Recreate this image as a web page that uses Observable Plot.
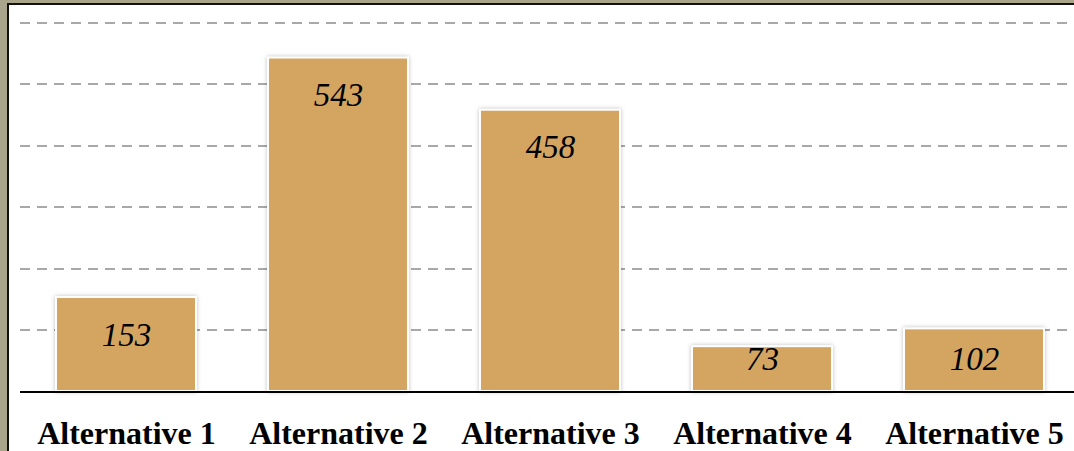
<!DOCTYPE html>
<html>
<head>
<meta charset="utf-8">
<script src="https://cdn.jsdelivr.net/npm/d3@7"></script>
<script src="https://cdn.jsdelivr.net/npm/@observablehq/plot@0.6"></script>
<style>
  html, body { margin: 0; padding: 0; width: 1074px; height: 451px; overflow: hidden; background: #a8a58c; }
  #frame { position: absolute; left: 7px; top: 3px; right: 0; bottom: 0; background: #fff; border-left: 2px solid #111; border-top: 2px solid #111; }
  #chart { position: absolute; left: 0; top: 0; }
  #chart svg rect { filter: drop-shadow(0px 0px 2px rgba(0,0,0,0.25)); }
</style>
</head>
<body>
<div id="frame"></div>
<div id="chart"></div>
<script>
const categories = ["Alternative 1", "Alternative 2", "Alternative 3", "Alternative 4", "Alternative 5"];
const values = [153, 543, 458, 73, 102];
const gridTicks = [100, 200, 300, 400, 500, 600];

const data = categories.map((c, i) => ({category: c, value: values[i]}));

const chart = Plot.plot({
  width: 1074,
  height: 451,
  marginTop: 0,
  marginBottom: 0,
  marginLeft: 20,
  marginRight: 0,
  style: {background: "transparent", overflow: "visible"},
  x: {domain: categories, range: [19, 1081], paddingInner: 0.34, paddingOuter: 0.17, axis: null},
  y: {domain: [0, 600], range: [391, 22.5], axis: null},
  marks: [
    Plot.ruleY(gridTicks, {stroke: "#a8a8a8", strokeWidth: 2, strokeDasharray: "10,7", shapeRendering: "crispEdges"}),
    Plot.barY(data, {x: "category", y: "value", fill: "#d4a561", stroke: "#ffffff", strokeWidth: 2}),
    Plot.ruleY([0], {stroke: "#000", strokeWidth: 2, shapeRendering: "crispEdges"}),
    Plot.text(data, {
      x: "category",
      y: d => Math.max(d.value - 61, 53),
      text: d => String(d.value),
      fontFamily: "Liberation Serif",
      fontStyle: "italic",
      fontSize: 33,
      fill: "#000"
    }),
    Plot.text(data, {
      x: "category",
      y: 0,
      dy: 42,
      text: "category",
      fontFamily: "Liberation Serif",
      fontWeight: "bold",
      fontSize: 32,
      fill: "#000"
    })
  ]
});
document.getElementById("chart").appendChild(chart);
</script>
</body>
</html>
